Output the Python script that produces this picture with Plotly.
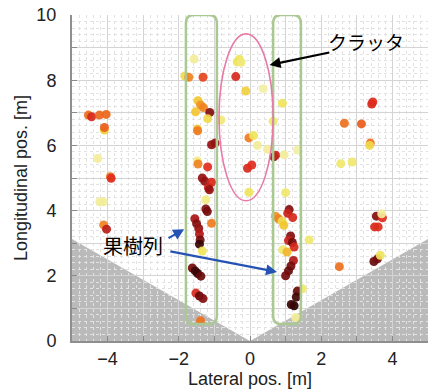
import plotly.graph_objects as go

# ---- data ----
lat = [
    -4.54, -4.45, -4.23, -4.04, -4.09, -4.09, -4.28, -3.92, -3.90, -4.22, -4.12, -4.11, -4.03,
    -1.57, -1.83, -1.72, -1.32, -1.46, -1.39, -1.31, -1.53, -1.13, -1.19, -1.48, -1.47,
    -1.08, -0.98, -1.48, -1.46, -1.19, -1.34, -1.27, -1.08, -1.17, -1.14, -1.24, -1.24,
    -1.20, -1.08, -1.55, -1.50, -1.44, -1.42, -1.40, -1.42, -1.34, -1.62, -1.54, -1.47,
    -1.38, -1.52, -1.42, -1.32, -1.39,
    -0.36, -0.30, -0.25, -0.40, -0.12, 0.37, -0.82, -0.03, 0.10, 0.21, 0.49, -0.07, 0.05, -0.03,
    0.91, 0.65, 0.67, 0.72, 0.96, 1.33, 1.00, 1.10, 1.06, 1.20, 0.72, 0.80, 0.90, 0.95,
    1.14, 1.08, 1.19, 1.24, 0.92, 1.04, 1.22, 1.15, 1.08, 1.00, 1.47, 1.33, 1.30, 1.24,
    1.16, 1.28, 1.66,
    3.42, 3.45, 2.65, 3.13, 3.38, 3.36, 2.55, 2.87, 3.55, 3.72, 3.50, 3.60, 3.70, 2.51,
    3.48, 3.58, 3.66,
]
lon = [
    6.93, 6.88, 6.93, 6.95, 6.47, 6.55, 5.60, 5.04, 4.99, 4.27, 4.27, 3.56, 3.43,
    8.65, 8.13, 8.09, 8.09, 7.37, 7.24, 7.16, 7.03, 7.01, 6.82, 6.50, 6.45,
    6.02, 6.07, 5.52, 5.43, 5.34, 5.00, 4.90, 4.87, 4.70, 4.64, 4.33, 4.05,
    3.97, 3.61, 3.75, 3.60, 3.45, 3.28, 3.10, 2.97, 2.76, 2.24, 2.15, 2.07,
    1.99, 1.47, 1.38, 1.30, 0.62,
    8.56, 8.64, 8.55, 8.11, 7.67, 7.74, 6.78, 6.23, 6.30, 6.00, 5.88, 5.30, 5.40, 4.56,
    7.29, 6.74, 5.65, 5.70, 5.71, 5.86, 4.55, 4.03, 3.92, 3.79, 3.83, 3.75, 3.67, 3.55,
    3.22, 3.08, 3.02, 2.88, 2.80, 2.73, 2.47, 2.30, 2.15, 2.00, 1.60, 1.53, 1.35, 1.08,
    1.12, 0.72, 3.10,
    7.27, 7.33, 6.68, 6.66, 6.07, 6.00, 5.44, 5.49, 3.83, 3.78, 3.50, 3.50, 3.90, 2.28,
    2.44, 2.52, 2.63,
]
val = [
    0.55, 0.72, 0.58, 0.58, 0.25, 0.60, 0.05, 0.55, 0.70, 0.05, 0.05, 0.50, 0.78,
    0.05, 0.20, 0.50, 0.65, 0.30, 0.45, 0.50, 0.30, 0.88, 0.20, 0.30, 0.52,
    0.85, 0.85, 0.08, 0.50, 0.70, 0.85, 0.85, 0.72, 0.75, 0.85, 0.08, 0.88,
    0.90, 0.52, 0.82, 0.88, 0.85, 0.80, 0.90, 0.98, 0.15, 0.90, 0.97, 0.98,
    0.92, 0.72, 0.92, 0.88, 0.55,
    0.15, 0.15, 0.10, 0.72, 0.25, 0.03, 0.10, 0.52, 0.15, 0.05, 0.05, 0.72, 0.70, 0.15,
    0.15, 0.12, 0.85, 0.75, 0.05, 0.03, 0.12, 0.88, 0.75, 0.72, 0.45, 0.50, 0.20, 0.30,
    0.88, 0.75, 0.90, 0.72, 0.12, 0.35, 0.80, 0.90, 0.92, 0.90, 0.12, 0.92, 0.97, 1.00,
    0.98, 0.05, 0.12,
    0.72, 0.70, 0.55, 0.60, 0.55, 0.20, 0.12, 0.12, 0.88, 0.70, 0.72, 0.70, 0.05, 0.55,
    0.92, 0.90, 0.15,
]

x_ticks = [-5, -4, -3, -2, -1, 0, 1, 2, 3, 4, 5]
x_ticktext = ["", "−4", "", "−2", "", "0", "", "2", "", "4", ""]
y_ticks = [0, 1, 2, 3, 4, 5, 6, 7, 8, 9, 10]
y_ticktext = ["0", "", "2", "", "4", "", "6", "", "8", "", "10"]

heat = [
    [0.0, "#f3f2b8"], [0.15, "#efe45a"], [0.3, "#f2c530"], [0.45, "#f29425"],
    [0.58, "#ec661c"], [0.7, "#e02c1c"], [0.82, "#a81414"], [0.92, "#680a0a"],
    [1.0, "#280202"],
]

# overlay geometry (annotation guides, data units)
row_left = (-1.80, -0.93, 0.52, 10.0)
row_right = (0.65, 1.43, 0.52, 10.0)
clutter_ellipse = (-0.87, 0.65, 4.3, 9.42)
blind_y = 3.13

fig = go.Figure()
fig.add_trace(go.Scatter(
    x=lat, y=lon, mode="markers",
    marker=dict(size=9, color=val, colorscale=heat, cmin=0, cmax=1, opacity=0.92,
                line=dict(width=0)),
    hoverinfo="skip", showlegend=False,
))


def rounded_rect(x0, x1, y0, y1, rx=0.22, ry=0.25):
    return (f"M {x0+rx},{y0} L {x1-rx},{y0} Q {x1},{y0} {x1},{y0+ry} "
            f"L {x1},{y1-ry} Q {x1},{y1} {x1-rx},{y1} L {x0+rx},{y1} "
            f"Q {x0},{y1} {x0},{y1-ry} L {x0},{y0+ry} Q {x0},{y0} {x0+rx},{y0} Z")


shapes = [
    dict(type="path", path=f"M -5,0 L 0,0 L -5,{blind_y} Z", xref="x", yref="y",
         fillcolor="rgba(0,0,0,0.27)", line=dict(width=0), layer="below"),
    dict(type="path", path=f"M 0,0 L 5,0 L 5,{blind_y} Z", xref="x", yref="y",
         fillcolor="rgba(0,0,0,0.27)", line=dict(width=0), layer="below"),
]
for r in (row_left, row_right):
    shapes.append(dict(type="path", path=rounded_rect(*r), xref="x", yref="y",
                       line=dict(color="#a9c892", width=2.5)))
ex0, ex1, ey0, ey1 = clutter_ellipse
shapes.append(dict(type="circle", x0=ex0, x1=ex1, y0=ey0, y1=ey1, xref="x", yref="y",
                   line=dict(color="#e87aa8", width=1.6)))

annotations = [
    dict(x=0.55, y=8.47, ax=2.27, ay=8.86, xref="x", yref="y", axref="x", ayref="y",
         text="", showarrow=True, arrowhead=2, arrowsize=1.0, arrowwidth=2.2,
         arrowcolor="black"),
    dict(x=3.25, y=9.2, xref="x", yref="y", text="クラッタ", showarrow=False,
         font=dict(size=19, color="black", family="Noto Sans CJK JP")),
    dict(x=-1.85, y=3.43, ax=-2.33, ay=3.13, xref="x", yref="y", axref="x", ayref="y",
         text="", showarrow=True, arrowhead=2, arrowsize=1.0, arrowwidth=2.2,
         arrowcolor="#2552b5"),
    dict(x=0.76, y=2.12, ax=-2.28, ay=2.76, xref="x", yref="y", axref="x", ayref="y",
         text="", showarrow=True, arrowhead=2, arrowsize=1.0, arrowwidth=2.2,
         arrowcolor="#2552b5"),
    dict(x=-3.28, y=2.92, xref="x", yref="y", text="果樹列", showarrow=False,
         font=dict(size=20, color="black", family="Noto Sans CJK JP")),
]

axis_common = dict(
    ticks="inside", ticklen=5, tickwidth=1, tickcolor="#8a8a8a",
    showline=True, linecolor="#8f8f8f", linewidth=2,
    showgrid=True, gridcolor="#d4d4d4", gridwidth=1,
    zeroline=False, mirror=False,
    tickfont=dict(size=18, color="#222", family="Liberation Sans"),
    minor=dict(dtick=0.2, showgrid=True, gridcolor="#e2e2e2", griddash="dot",
               gridwidth=1, ticks=""),
)

fig.update_layout(
    width=430, height=392,
    margin=dict(l=72, r=2, t=15, b=51),
    paper_bgcolor="white", plot_bgcolor="white",
    font=dict(family="Liberation Sans, Noto Sans CJK JP", color="#222"),
    xaxis=dict(range=[-5, 5], tickmode="array", tickvals=x_ticks, ticktext=x_ticktext,
               title=dict(text="Lateral pos. [m]", font=dict(size=18), standoff=3),
               ticklabelstandoff=0, **axis_common),
    yaxis=dict(range=[0, 10], tickmode="array", tickvals=y_ticks, ticktext=y_ticktext,
               title=dict(text="Longitudinal pos. [m]", font=dict(size=18), standoff=4),
               ticklabelstandoff=10, **axis_common),
    shapes=shapes, annotations=annotations,
)

fig.write_html("out.html")
